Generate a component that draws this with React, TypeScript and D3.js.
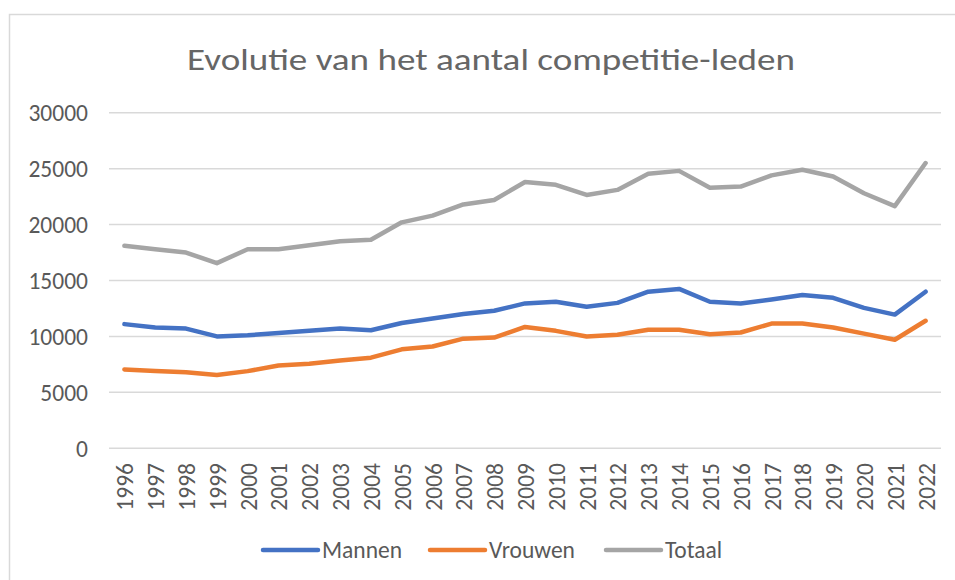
import React from "react";
import * as d3 from "d3";

const years = [
  "1996", "1997", "1998", "1999", "2000", "2001", "2002", "2003", "2004",
  "2005", "2006", "2007", "2008", "2009", "2010", "2011", "2012", "2013",
  "2014", "2015", "2016", "2017", "2018", "2019", "2020", "2021", "2022",
];

const mannen = [
  11100, 10800, 10700, 10000, 10100, 10300, 10500, 10700, 10550,
  11200, 11600, 12000, 12300, 12950, 13100, 12650, 13000, 14000,
  14250, 13100, 12950, 13300, 13700, 13450, 12550, 11950, 14000,
];

const vrouwen = [
  7050, 6900, 6800, 6550, 6900, 7400, 7550, 7850, 8100,
  8850, 9100, 9800, 9900, 10850, 10500, 10000, 10150, 10600,
  10600, 10200, 10350, 11150, 11150, 10800, 10250, 9700, 11400,
];

const totaal = [
  18100, 17800, 17500, 16550, 17800, 17800, 18150, 18500, 18650,
  20200, 20800, 21800, 22200, 23800, 23550, 22650, 23100, 24550,
  24800, 23300, 23400, 24400, 24900, 24300, 22800, 21650, 25500,
];

const yTicks = [0, 5000, 10000, 15000, 20000, 25000, 30000];

const seriesNames = ["Mannen", "Vrouwen", "Totaal"];
const seriesColors = ["#4472C4", "#ED7D31", "#A5A5A5"];

const title = "Evolutie van het aantal competitie-leden";

const W = 955;
const H = 580;
const FONT = "Calibri, Carlito, 'Open Sans', sans-serif";

export default function App() {
  const x = d3.scaleBand<string>().domain(years).range([109, 941]).padding(0);
  const xc = (d: string) => (x(d) as number) + x.bandwidth() / 2;
  const y = d3.scaleLinear().domain([0, 30000]).range([448.3, 112.7]);

  const line = d3
    .line<number>()
    .x((_, i) => xc(years[i]))
    .y((v) => y(v));

  const series = [mannen, vrouwen, totaal];
  const legendX = [263, 430, 606];

  return (
    <svg
      width={W}
      height={H}
      style={{ position: "absolute", left: 0, top: 0, background: "#fff" }}
      fontFamily={FONT}
    >
      <rect x={0} y={0} width={W} height={H} fill="#fff" />
      <rect
        x={9.5}
        y={14.5}
        width={W + 50}
        height={H + 50}
        fill="#fff"
        stroke="#d9d9d9"
        strokeWidth={1.5}
      />
      <text
        x={187}
        y={70}
        fontSize={31}
        fontWeight={400}
        fill="#666666"
        textLength={608}
        lengthAdjust="spacingAndGlyphs"
      >
        {title}
      </text>
      {yTicks.map((t) => (
        <g key={t}>
          <line
            x1={109}
            x2={941}
            y1={y(t)}
            y2={y(t)}
            stroke="#d9d9d9"
            strokeWidth={1.5}
          />
          <text
            x={88}
            y={y(t)}
            dy="0.36em"
            textAnchor="end"
            fontSize={23.5}
            fill="#595959"
          >
            {t}
          </text>
        </g>
      ))}
      {years.map((yr) => (
        <text
          key={yr}
          transform={`translate(${xc(yr) + 1},463) rotate(-90)`}
          textAnchor="end"
          dominantBaseline="central"
          fontSize={23.5}
          fill="#595959"
        >
          {yr}
        </text>
      ))}
      {series.map((s, i) => (
        <path
          key={seriesNames[i]}
          d={line(s) as string}
          fill="none"
          stroke={seriesColors[i]}
          strokeWidth={4.5}
          strokeLinejoin="round"
          strokeLinecap="round"
        />
      ))}
      {seriesNames.map((n, i) => (
        <g key={n} transform={`translate(${legendX[i]},550)`}>
          <line
            x1={0}
            x2={55}
            y1={0}
            y2={0}
            stroke={seriesColors[i]}
            strokeWidth={4.5}
            strokeLinecap="round"
          />
          <text x={59} y={0} dy="0.36em" fontSize={23.5} fill="#595959">
            {n}
          </text>
        </g>
      ))}
    </svg>
  );
}
